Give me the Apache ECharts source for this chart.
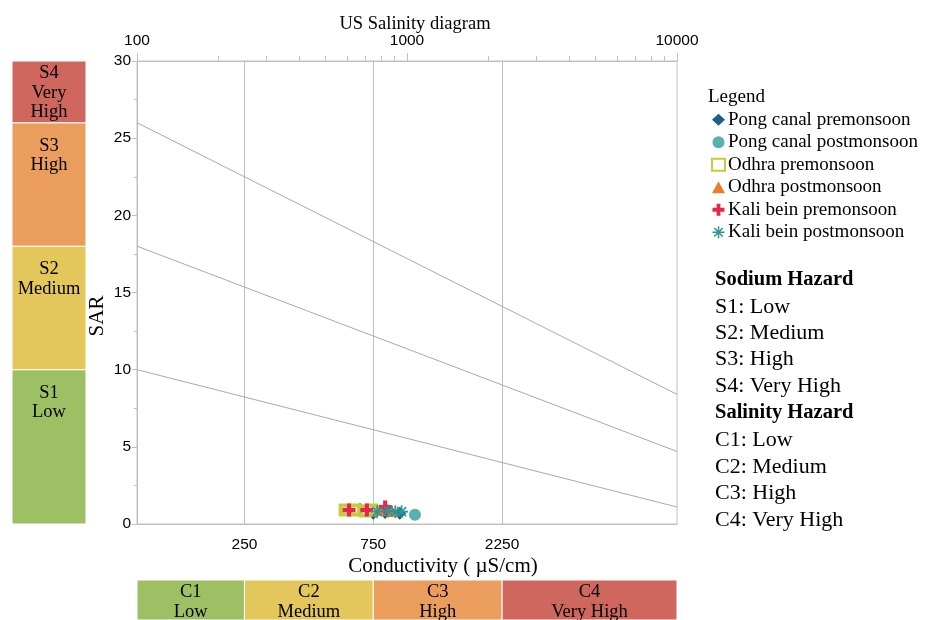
<!DOCTYPE html>
<html>
<head>
<meta charset="utf-8">
<script src="https://cdn.jsdelivr.net/npm/echarts@6/dist/echarts.min.js"></script>
<style>html,body{margin:0;padding:0;background:#fff}#c{width:934px;height:620px}</style>
</head>
<body>
<div id="c"></div>
<script>
// ---- data ----
const seriesNames = ['Pong canal premonsoon','Pong canal postmonsoon','Odhra premonsoon','Odhra postmonsoon','Kali bein premonsoon','Kali bein postmonsoon'];
const pongPre  = [[670,0.95],[750,0.7],[830,0.75],[940,0.7]];
const pongPost = [[1070,0.6]];
const odhraPre = [[590,0.9],[640,0.9],[700,0.85],[740,0.9]];
const odhraPost = [[795,0.9],[880,0.85]];
const kaliPre  = [[610,0.9],[710,0.9],[830,1.1]];
const kaliPost = [[775,0.8],[850,0.85],[905,0.8],[955,0.8]];
// hazard boundary lines: SAR at EC=100 and EC=10000
const boundaryEC = [100, 10000];
const boundarySAR = [[26, 8.4],[18, 4.7],[10, 1.1]];
// sodium bands (SAR) and salinity bands (EC)
const sodiumBreaks = [0, 10, 18, 26, 30];
const sodiumLabels = ['S1\nLow','S2\nMedium','S3\nHigh','S4\nVery\nHigh'];
const salinityBreaks = [100, 250, 750, 2250, 10000];
const salinityLabels = ['C1\nLow','C2\nMedium','C3\nHigh','C4\nVery High'];
const bandColors = ['#9dc064','#e3c75b','#eb9d5e','#d0675e'];
const bottomTicks = [250, 750, 2250];
const topMinorTicks = [200,300,400,500,600,700,800,900,2000,3000,4000,5000,6000,7000,8000,9000];
const hazardLines = ['Sodium Hazard','S1: Low','S2: Medium','S3: High','S4: Very High','Salinity Hazard','C1: Low','C2: Medium','C3: High','C4: Very High'];

const SERIF = '"Liberation Serif", "Times New Roman", serif';
const SANS = '"Liberation Sans", Arial, sans-serif';
const GRID_C = '#c0c0c0';

const crossPath = 'path://M-1.1,-3.5 H1.1 V-1.1 H3.5 V1.1 H1.1 V3.5 H-1.1 V1.1 H-3.5 V-1.1 H-1.1 Z';
const starPath = 'path://M-0.5,-4 h1 v8 h-1 Z M-4,-0.5 h8 v1 h-8 Z M-3.18,-2.47 L-2.47,-3.18 L3.18,2.47 L2.47,3.18 Z M2.47,-3.18 L3.18,-2.47 L-2.47,3.18 L-3.18,2.47 Z';

const chart = echarts.init(document.getElementById('c'), null, {renderer:'canvas'});

const sodiumArea = sodiumLabels.map((t,i)=>[
  {yAxis: sodiumBreaks[i], label: {formatter: t, distance: i===3 ? 3 : 14}, itemStyle:{color: bandColors[i]}},
  {yAxis: sodiumBreaks[i+1]}
]);
const salinityArea = salinityLabels.map((t,i)=>[
  {xAxis: salinityBreaks[i], label: {formatter: t}, itemStyle:{color: bandColors[i]}},
  {xAxis: salinityBreaks[i+1]}
]);

const graphics = [
  {type:'text', left: 708, top: 88, style:{text:'Legend', font:'19px ' + SERIF, fill:'#000'}},
  {type:'text', x: 443, y: 566, style:{text:'Conductivity ( \u00b5S/cm)', font:'21px ' + SERIF, fill:'#000', textAlign:'center', textVerticalAlign:'middle'}},
  {type:'text', x: 97, y: 316, rotation: Math.PI/2, z: 100, style:{text:'SAR', font:'21px ' + SERIF, fill:'#000', textAlign:'center', textVerticalAlign:'middle'}}
];
const hazardY = [280,307,333,359,386,413,440,467,493,520];
hazardLines.forEach((t,i)=>{
  const bold = (i===0 || i===5);
  graphics.push({type:'text', x: 715, y: hazardY[i], style:{text:t, font:(bold?'bold 20.5px ':'22px ') + SERIF, fill:'#000', textVerticalAlign:'middle'}});
});

const plainNum = v => String(Math.round(v));

const option = {
  animation: false,
  backgroundColor: '#fff',
  title: {text:'US Salinity diagram', left: 410, top: 10, textAlign:'center', textStyle:{fontFamily: SERIF, fontSize: 18.5, fontWeight:'normal', color:'#000'}},
  legend: {
    orient:'vertical', left: 706, top: 105, itemWidth: 13, itemHeight: 12, itemGap: 3,
    data: seriesNames,
    textStyle:{fontFamily: SERIF, fontSize: 19, lineHeight: 19.5, color:'#000', padding:[0,0,0,-2]}
  },
  graphic: graphics,
  grid: [
    {left:137, right:257, top:61, bottom:96, show:true, borderColor: GRID_C, borderWidth:1, containLabel:false},
    {left:12, width:74, top:61, bottom:96},
    {left:137, right:257, top:580, height:60}
  ],
  xAxis: [
    {type:'log', logBase:10, min:100, max:10000, gridIndex:0, position:'bottom',
      axisLine:{show:true, lineStyle:{color:GRID_C}},
      axisTick:{show:false, customValues: bottomTicks},
      axisLabel:{customValues: bottomTicks, formatter: plainNum, fontFamily: SANS, fontSize: 15.5, color:'#000', margin: 13},
      splitLine:{show:true, lineStyle:{color:GRID_C, width:1}}},
    {type:'log', logBase:10, min:100, max:10000, gridIndex:0, position:'top',
      axisLine:{show:true, lineStyle:{color:GRID_C}},
      axisTick:{show:true, length:8, lineStyle:{color:GRID_C}},
      axisLabel:{formatter: plainNum, fontFamily: SANS, fontSize: 15.5, color:'#000', margin: 12},
      splitLine:{show:false}},
    {type:'log', logBase:10, min:100, max:10000, gridIndex:0, position:'top',
      axisLine:{show:false},
      axisTick:{show:true, length:5, customValues: topMinorTicks, lineStyle:{color:GRID_C}},
      axisLabel:{show:false},
      splitLine:{show:false}},
    {type:'value', min:0, max:1, gridIndex:1, show:false},
    {type:'log', logBase:10, min:100, max:10000, gridIndex:2, show:false}
  ],
  yAxis: [
    {type:'value', min:0, max:30, interval:5, gridIndex:0,
      axisLine:{show:true, lineStyle:{color:GRID_C}},
      axisTick:{show:true, length:5, lineStyle:{color:GRID_C}},
      minorTick:{show:true, splitNumber:2, length:3, lineStyle:{color:GRID_C}},
      axisLabel:{fontFamily: SANS, fontSize: 15.5, color:'#000', margin: 6},
      splitLine:{show:false}},
    {type:'value', min:0, max:30, gridIndex:1, show:false},
    {type:'value', min:0, max:1, gridIndex:2, show:false}
  ],
  series: [
    ...boundarySAR.map((s,i)=>({
      type:'line', name:'boundary'+i, xAxisIndex:0, yAxisIndex:0, silent:true,
      data: [[boundaryEC[0], s[0]],[boundaryEC[1], s[1]]],
      symbol:'none', lineStyle:{color:'#aaaaaa', width:1}, z:1
    })),
    {type:'line', name:'sodiumBands', xAxisIndex:3, yAxisIndex:1, data:[], silent:true,
      markArea:{silent:true, itemStyle:{opacity:1, borderColor:'#fff', borderWidth:1},
        label:{show:true, position:'insideTop', fontFamily: SERIF, fontSize: 18.5, lineHeight: 19.5, color:'#000', align:'center'},
        data: sodiumArea}},
    {type:'line', name:'salinityBands', xAxisIndex:4, yAxisIndex:2, data:[], silent:true,
      markArea:{silent:true, itemStyle:{opacity:1, borderColor:'#fff', borderWidth:1},
        label:{show:true, position:'insideTop', distance:3, fontFamily: SERIF, fontSize: 18.5, lineHeight: 20, color:'#000', align:'center'},
        data: salinityArea}},
    {type:'scatter', name: seriesNames[1], data: pongPost, symbol:'circle', symbolSize: 12, itemStyle:{color:'#5aafb0', opacity:1}, z:3},
    {type:'scatter', name: seriesNames[0], data: pongPre, symbol:'diamond', symbolSize: 13, itemStyle:{color:'#1b5e86', opacity:1}, z:3},
    {type:'scatter', name: seriesNames[2], data: odhraPre, symbol:'rect', symbolSize: 9, itemStyle:{color:'#ffffff', borderColor:'#c3cc3b', borderWidth:4, opacity:1}, z:3},
    {type:'scatter', name: seriesNames[3], data: odhraPost, symbol:'triangle', symbolSize: 12, itemStyle:{color:'#f07a2a', opacity:1}, z:3},
    {type:'scatter', name: seriesNames[4], data: kaliPre, symbol: crossPath, symbolSize: 13, itemStyle:{color:'#e6274b', opacity:1}, z:3},
    {type:'scatter', name: seriesNames[5], data: kaliPost, symbol: starPath, symbolSize: 13, itemStyle:{color:'#2f9595', opacity:1}, z:3}
  ]
};
chart.setOption(option);
</script>
</body>
</html>
